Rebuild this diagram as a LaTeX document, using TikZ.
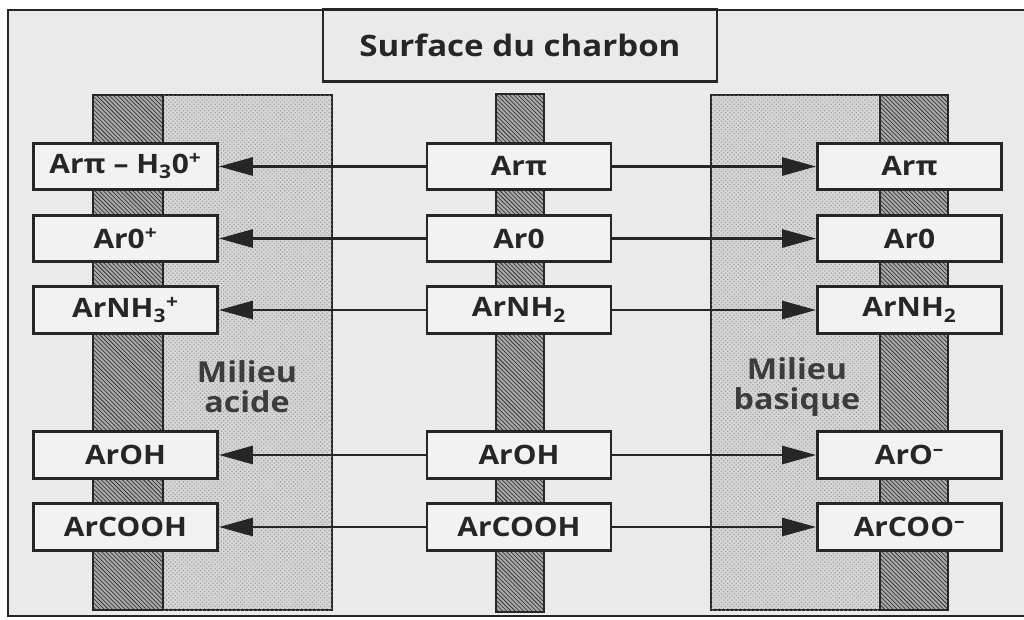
\documentclass[tikz,border=0pt]{standalone}
\usepackage{fontspec}
\setmainfont{Open Sans}
\newfontfamily\labfont{Open Sans}[FakeStretch=1.12, Ligatures=TeX]
\usepackage{xcolor}
\usetikzlibrary{arrows.meta, patterns}
\definecolor{paper}{RGB}{234, 234, 234}
\definecolor{ink}{RGB}{38, 38, 38}
\definecolor{boxfill}{RGB}{242, 242, 242}
\tikzset{
    species/.style={rectangle, draw=ink, line width=2pt, fill=boxfill, minimum width=4.6cm, minimum height=1.16cm, inner sep=0pt, text=ink, font=\labfont\bfseries\fontsize{19}{22}\selectfont},
    carbon/.style={draw=ink, line width=2pt, fill=gray!68, postaction={pattern=north west lines, pattern color=black!85}},
    medium/.style={draw=ink, line width=2pt, fill=gray!32, postaction={pattern=crosshatch dots, pattern color=gray!85}},
    arr/.style={-{Triangle[length=8.5mm, width=4.5mm]}, line width=2pt, ink},
    lbl/.style={align=center, inner sep=0pt, text=ink!90, font=\labfont\bfseries\fontsize{20.5}{21.5}\selectfont}
}

\begin{document}
\begin{tikzpicture}[x=0.025cm, y=-0.025cm]
    \useasboundingbox (0,0) rectangle (1024,619);
    \fill[white] (0,0) rectangle (1024,619);
    \fill[paper] (8,10) rectangle (1030,616);
    \draw[ink, line width=1.5pt] (1030,10) -- (8,10) -- (8,616) -- (1030,616);

    % carbon walls and media
    \draw[medium] (163,95) rectangle (332,610);
    \draw[carbon] (93,95) rectangle (163,610);
    \draw[carbon] (496,94) rectangle (544,612);
    \draw[medium] (711,95) rectangle (880,610);
    \draw[carbon] (880,95) rectangle (948,610);

    \node[rectangle, draw=ink, line width=2pt, minimum width=9.85cm, minimum height=1.78cm, text=ink, font=\labfont\bfseries\fontsize{21}{24}\selectfont] (title) at (520,45.5) {Surface du charbon};
    \node[lbl] (acide) at (247,387) {Milieu\\acide};
    \node[lbl] (basique) at (797,387) {Milieu\\basique};

    % surface groups
    \node[species] (sfPi) at (519,166.5) {Arπ};
    \node[species] (sfO) at (519,238.5) {Ar0};
    \node[species] (sfNH) at (519,310) {ArNH\textsubscript{2}};
    \node[species] (sfOH) at (519,455) {ArOH};
    \node[species] (sfCOOH) at (519,527) {ArCOOH};

    % acid side
    \node[species] (acPi) at (125.5,166.5) {Arπ – H\textsubscript{3}0\textsuperscript{+}};
    \node[species] (acO) at (125.5,238.5) {Ar0\textsuperscript{+}};
    \node[species] (acNH) at (125.5,310) {ArNH\textsubscript{3}\textsuperscript{+}};
    \node[species] (acOH) at (125.5,455) {ArOH};
    \node[species] (acCOOH) at (125.5,527) {ArCOOH};

    % basic side
    \node[species] (bsPi) at (909.5,166.5) {Arπ};
    \node[species] (bsO) at (909.5,238.5) {Ar0};
    \node[species] (bsNH) at (909.5,310) {ArNH\textsubscript{2}};
    \node[species] (bsOH) at (909.5,455) {ArO\textsuperscript{–}};
    \node[species] (bsCOOH) at (909.5,527) {ArCOO\textsuperscript{–}};

    \draw[arr] (sfPi)--(acPi);
    \draw[arr] (sfO)--(acO);
    \draw[arr] (sfNH)--(acNH);
    \draw[arr] (sfOH)--(acOH);
    \draw[arr] (sfCOOH)--(acCOOH);
    \draw[arr] (sfPi)--(bsPi);
    \draw[arr] (sfO)--(bsO);
    \draw[arr] (sfNH)--(bsNH);
    \draw[arr] (sfOH)--(bsOH);
    \draw[arr] (sfCOOH)--(bsCOOH);
\end{tikzpicture}
\end{document}
